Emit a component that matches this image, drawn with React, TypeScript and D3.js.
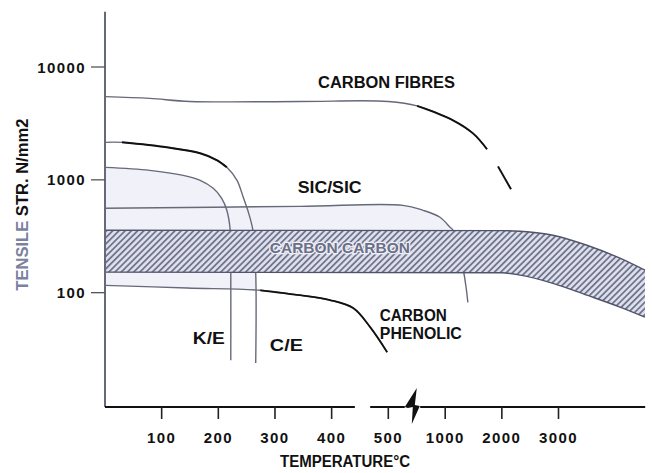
import React from "react";
import * as d3 from "d3";

// ---- data (temperature °C on broken axis, tensile strength N/mm2 on log axis)
const xTicks = [100, 200, 300, 400, 500, 1000, 2000, 3000];
const yTicks = [100, 1000, 10000];

const fibresT = [0, 79, 150, 344, 500, 753, 1138, 1491, 1738];
const fibresV = [5460, 5270, 4950, 4950, 4950, 4520, 3370, 2580, 1866];
const fibresTailT = [1932, 2162];
const fibresTailV = [1316, 824];

const ceT = [0, 30, 109, 168, 198, 215, 233, 244, 252, 261, 266, 266];
const ceV = [2148, 2148, 1940, 1718, 1489, 1290, 990, 700, 537, 357, 150, 23.8];

const keT = [0, 79, 138, 168, 191, 206, 215, 221, 222, 222];
const keV = [1290, 1214, 1096, 990, 841, 686, 537, 357, 150, 25.2];

const sicT = [0, 344, 629, 805, 954, 1085, 1138, 1320, 1370, 1400];
const sicV = [560, 582, 594, 537, 466, 380, 357, 158, 110, 82];

const phenT = [0, 145, 274, 344, 397, 438, 468, 498];
const phenV = [116, 110, 105, 95, 86, 73, 49.5, 29.7];

const ccT = [0, 2000, 2323, 2902, 3502, 4085, 4526];
const ccTop = [357, 355, 350, 323, 263, 202, 158];
const ccBottom = [152, 150, 143, 121, 95, 74.5, 60.7];

type P = [number, number];
const pts = (T: number[], V: number[]): P[] => T.map((t, i) => [t, V[i]] as P);

export default function App() {
  const W = 653, H = 473;
  const x = d3.scaleLinear().domain([0, 500, 1000, 3000]).range([105, 388.3, 445.2, 558.5]);
  const y = d3.scaleLog().domain([10, 10000]).range([405.5, 67]);
  const axisY = 407;
  const font = "'Liberation Sans', Arial, sans-serif";
  const curve = d3.curveCatmullRom.alpha(0.5);

  const line = d3.line<P>().x(d => x(d[0])).y(d => y(d[1])).curve(curve);
  const areaTo = (base: number) =>
    d3.area<P>().x(d => x(d[0])).y0(y(base)).y1(d => y(d[1])).curve(curve);

  const fibres = pts(fibresT, fibresV);
  const fibresTail = pts(fibresTailT, fibresTailV);
  const ce = pts(ceT, ceV);
  const ke = pts(keT, keV);
  const sic = pts(sicT, sicV);
  const phen = pts(phenT, phenV);

  const bandBottomV = ccBottom[0];

  const band = d3.area<number>()
    .x((_, i) => x(ccT[i]))
    .y0((_, i) => y(ccBottom[i]))
    .y1((_, i) => y(ccTop[i]))
    .curve(d3.curveMonotoneX)(ccT);
  const bandTopLine = d3.line<number>().x((_, i) => x(ccT[i])).y((_, i) => y(ccTop[i])).curve(d3.curveMonotoneX)(ccT);
  const bandBotLine = d3.line<number>().x((_, i) => x(ccT[i])).y((_, i) => y(ccBottom[i])).curve(d3.curveMonotoneX)(ccT);

  const grey = "#666a78";
  const fillC = "#f0f1f9";

  const axisSegs: [number, number][] = [[0, 441], [468, 645], [780, 4530]];
  const bx = x(645);

  const lbl = (t: number, v: number, s: string, len: number, size = 16, extra: any = {}) => (
    <text x={x(t)} y={y(v)} fontFamily={font} fontWeight="bold" fontSize={size}
      textLength={len} lengthAdjust="spacingAndGlyphs" fill="#111" {...extra}>{s}</text>
  );

  return (
    <svg width={W} height={H} style={{ position: "absolute", left: 0, top: 0, background: "#fff" }}>
      <defs>
        <pattern id="hatch" patternUnits="userSpaceOnUse" width="10" height="4.4" patternTransform="rotate(-45)">
          <rect width="10" height="4.4" fill="#dee0ec" />
          <rect y="0" width="10" height="1.8" fill="#71758f" />
        </pattern>
        <clipPath id="stripClip">
          <rect x={x(0)} y={0} width={x(ceT[ceT.length - 1]) - x(0)} height={H} />
        </clipPath>
      </defs>

      {/* light fills */}
      <path d={areaTo(bandBottomV)(ke.slice(0, 8)) || ""} fill={fillC} />
      <path d={areaTo(bandBottomV)(sic.slice(0, 7)) || ""} fill={fillC} />
      <path d={d3.area<P>().x(d => x(d[0])).y0(d => y(d[1])).y1(y(bandBottomV)).curve(curve)(phen) || ""}
        fill={fillC} clipPath="url(#stripClip)" />

      {/* curves crossing the band */}
      <path d={line(ke) || ""} fill="none" stroke={grey} strokeWidth={1.4} />
      <path d={line(ce) || ""} fill="none" stroke={grey} strokeWidth={1.4} />
      <path d={line(ce.slice(1, 6)) || ""} fill="none" stroke="#111" strokeWidth={2} />
      <path d={line(sic) || ""} fill="none" stroke={grey} strokeWidth={1.4} />

      {/* carbon-carbon band */}
      <path d={band || ""} fill="url(#hatch)" />
      <path d={bandTopLine || ""} fill="none" stroke="#50546a" strokeWidth={1.4} />
      <path d={bandBotLine || ""} fill="none" stroke="#50546a" strokeWidth={1.4} />
      {lbl(291, 224, "CARBON CARBON", 140, 15, {
        fill: "#6c6f88", stroke: "#eef0f6", strokeWidth: 2.5, paintOrder: "stroke",
      })}

      {/* other curves */}
      <path d={line(phen) || ""} fill="none" stroke={grey} strokeWidth={1.4} />
      <path d={line(phen.slice(2)) || ""} fill="none" stroke="#111" strokeWidth={1.8} />
      <path d={line(fibres) || ""} fill="none" stroke={grey} strokeWidth={1.4} />
      <path d={line(fibres.slice(5)) || ""} fill="none" stroke="#111" strokeWidth={1.9} />
      <path d={line(fibresTail) || ""} fill="none" stroke="#111" strokeWidth={2} />

      {/* y axis */}
      <line x1={x(0)} x2={x(0)} y1={y(Math.pow(10, 4.49))} y2={axisY} stroke="#666a78" strokeWidth={2} />
      {yTicks.map(v => (
        <g key={v}>
          <line x1={x(0) - 14} x2={x(0)} y1={y(v)} y2={y(v)} stroke="#555" strokeWidth={1.3} />
          <text x={x(0) - 19} y={y(v) + 5.5} textAnchor="end" fontFamily={font} fontWeight="bold"
            fontSize={15} letterSpacing={1.4} fill="#111">{v}</text>
        </g>
      ))}
      <text transform={`translate(28,${y(Math.pow(10, 2.78))}) rotate(-90)`} textAnchor="middle"
        fontFamily={font} fontWeight="bold" fontSize={16} textLength={172} lengthAdjust="spacingAndGlyphs">
        <tspan fill="#7b819f">TENSILE </tspan>
        <tspan fill="#111">STR. N/mm2</tspan>
      </text>

      {/* x axis */}
      {axisSegs.map(([a, b], i) => (
        <line key={i} x1={x(a)} x2={x(b)} y1={axisY} y2={axisY} stroke="#111" strokeWidth={1.8} />
      ))}
      <path d={`M${bx},${axisY} L${bx + 12},${axisY - 19} L${bx + 10},${axisY - 2} L${bx + 15},${axisY - 1} L${bx + 7},${axisY + 17} L${bx + 8},${axisY} L${bx + 3},${axisY + 1} Z`}
        fill="#111" />
      {xTicks.map(t => (
        <g key={t}>
          <line x1={x(t)} x2={x(t)} y1={axisY} y2={axisY + 12} stroke="#222" strokeWidth={1.6} />
          <text x={x(t)} y={443} textAnchor="middle" fontFamily={font} fontWeight="bold"
            fontSize={15} letterSpacing={1.4} fill="#111">{t}</text>
        </g>
      ))}
      <text x={345} y={467} textAnchor="middle" fontFamily={font} fontWeight="bold" fontSize={16}
        textLength={130} lengthAdjust="spacingAndGlyphs" fill="#111">TEMPERATURE°C</text>

      {/* labels */}
      {lbl(376, 6500, "CARBON FIBRES", 137)}
      {lbl(340, 760, "SIC/SIC", 64)}
      {lbl(155, 35, "K/E", 32, 17)}
      {lbl(291, 30.3, "C/E", 33, 17)}
      {lbl(485, 56, "CARBON", 67)}
      {lbl(485, 38.8, "PHENOLIC", 82)}
    </svg>
  );
}
